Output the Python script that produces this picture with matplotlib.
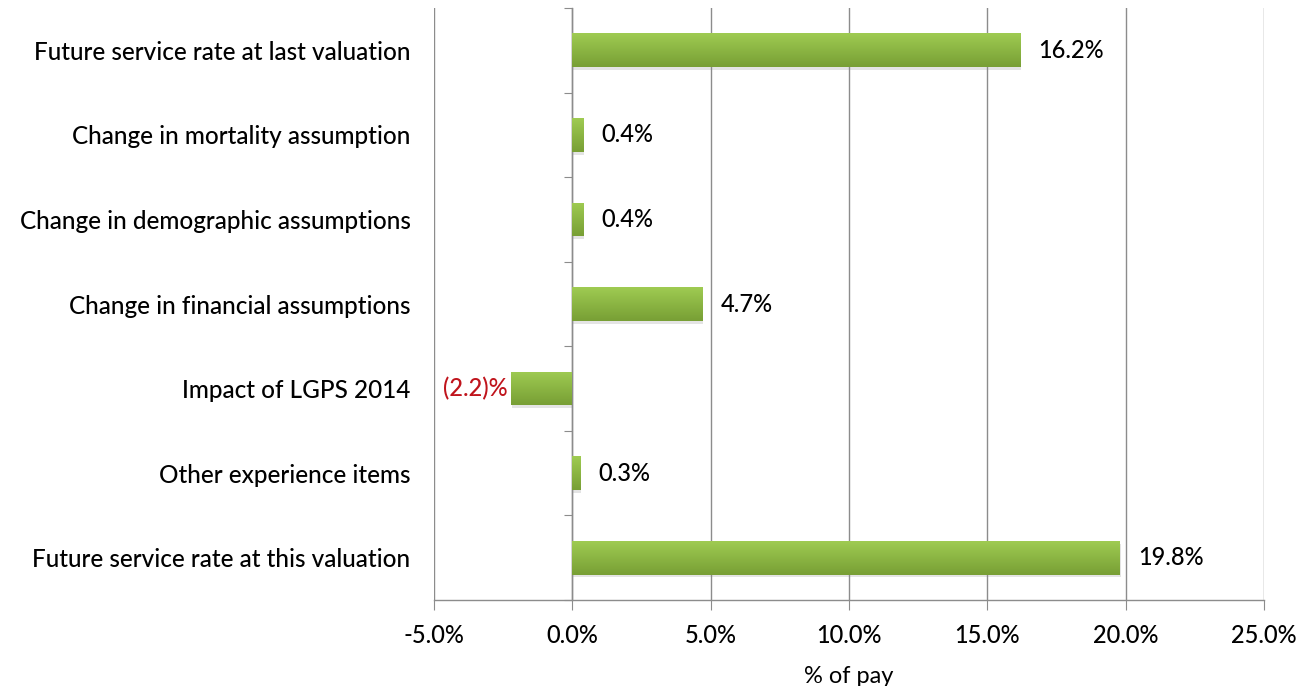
import matplotlib
matplotlib.use("Agg")
import matplotlib.pyplot as plt
import matplotlib.patheffects as pe
import numpy as np
from matplotlib.ticker import FuncFormatter
from matplotlib.colors import LinearSegmentedColormap

categories = [
    "Future service rate at last valuation",
    "Change in mortality assumption",
    "Change in demographic assumptions",
    "Change in financial assumptions",
    "Impact of LGPS 2014",
    "Other experience items",
    "Future service rate at this valuation",
]
values = [16.2, 0.4, 0.4, 4.7, -2.2, 0.3, 19.8]
value_labels = ["16.2%", "0.4%", "0.4%", "4.7%", "(2.2)%", "0.3%", "19.8%"]
x_ticks = [-5, 0, 5, 10, 15, 20, 25]

plt.rcParams['font.family'] = ['Lato', 'DejaVu Sans']
plt.rcParams['font.weight'] = 'medium'

fig = plt.figure(figsize=(13.14, 6.86), dpi=100)
ax = fig.add_axes([434/1314, 1 - 600/686, 830/1314, 592/686])

n = len(categories)
ypos = list(range(n))
bars = ax.barh(ypos, values, height=0.4, color="#8DB744", zorder=3)
grad = np.linspace(0, 1, 64).reshape(-1, 1)
cmap = LinearSegmentedColormap.from_list("g", ["#9FCB52", "#8BB543", "#789F35"])
for b in bars:
    b.set_path_effects([pe.SimplePatchShadow(offset=(0.5, -2), shadow_rgbFace="#888888", alpha=0.22), pe.Normal()])
    x0, y0 = b.get_x(), b.get_y()
    w, h = b.get_width(), b.get_height()
    im = ax.imshow(grad, cmap=cmap, aspect='auto', zorder=4, origin='lower',
                   extent=(x0, x0 + w, y0, y0 + h), interpolation='bilinear')
    im.set_clip_path(b)

ax.set_ylim(n - 0.5, -0.5)
ax.set_xlim(-5, 25)
ax.set_xticks(x_ticks)
ax.xaxis.set_major_formatter(FuncFormatter(lambda v, p: f"{v:.1f}%"))
ax.set_yticks(ypos)
ax.set_yticklabels(categories, fontsize=17.5)
ax.tick_params(axis='y', length=0, pad=17)
ax.tick_params(axis='x', length=7, color="#8c8c8c", labelsize=17, pad=10)
ax.grid(axis='x', color="#8c8c8c", linewidth=1.0, zorder=0)

for s in ['top', 'right', 'left']:
    ax.spines[s].set_visible(False)
ax.spines['bottom'].set_color("#8c8c8c")
ax.spines['bottom'].set_linewidth(1.0)

# category axis at zero
sec = ax.secondary_yaxis(1/6)
sec.set_yticks([i - 0.5 for i in range(n + 1)])
sec.set_yticklabels([])
sec.tick_params(axis='y', direction='out', length=6, color="#8c8c8c")
sec.spines['left'].set_color("#8c8c8c")
sec.spines['left'].set_linewidth(1.0)

for y, v, lab in zip(ypos, values, value_labels):
    if v >= 0:
        ax.annotate(lab, (v, y), xytext=(13, 0), textcoords='offset points',
                    ha='left', va='center', fontsize=17, color='black', zorder=5)
    else:
        ax.annotate(lab, (v, y), xytext=(-3, 0), textcoords='offset points',
                    ha='right', va='center', fontsize=17, color='#C0141C', zorder=5)

ax.set_xlabel("% of pay", fontsize=17, labelpad=14)

fig.savefig("out.png", dpi=100)
